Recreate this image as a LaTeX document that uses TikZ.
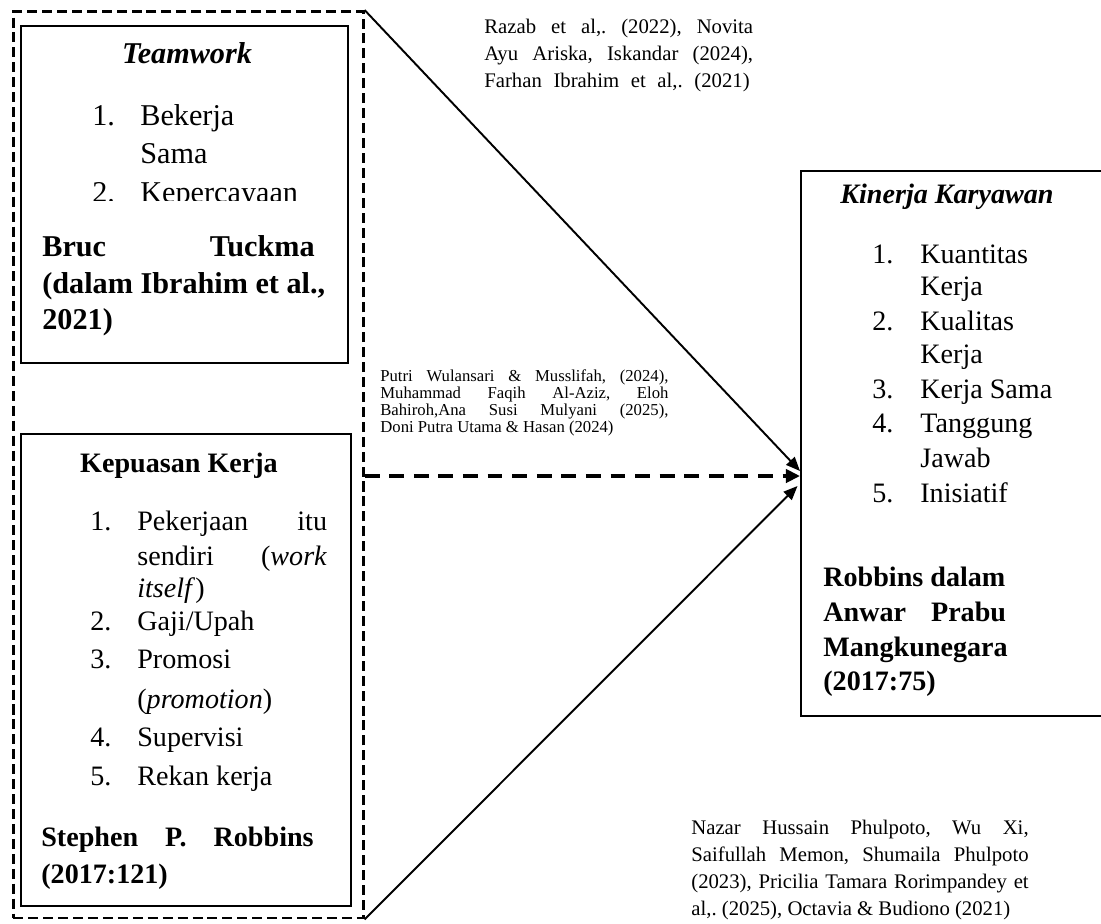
\documentclass[tikz,border=0pt]{standalone}
\usepackage{fontspec}
\setmainfont{Liberation Serif}
\usetikzlibrary{arrows.meta}
\frenchspacing

\begin{document}
\begin{tikzpicture}[
		x=0.02cm, y=-0.02cm,
		box/.style={draw, line width=1.1pt, inner sep=0pt, anchor=north west},
		group/.style={draw, line width=1.5pt, dash pattern=on 5.7pt off 2.8pt, inner sep=0pt, anchor=north west},
		link/.style={line width=1.1pt, -{Triangle[length=8pt,width=6.5pt]}},
		dlink/.style={line width=2pt, dash pattern=on 8.5pt off 5.5pt, -{Triangle[length=8pt,width=7.5pt]}},
		itemtext/.style={anchor=base west, inner sep=0pt, font=\fontsize{16}{19}\selectfont},
		bigtext/.style={anchor=base west, inner sep=0pt, font=\fontsize{17.2}{21}\selectfont},
		reftext/.style={anchor=base west, inner sep=0pt, font=\fontsize{11.8}{13}\selectfont},
		smalltext/.style={anchor=base west, inner sep=0pt, font=\fontsize{9.5}{10}\selectfont}
	]
	\useasboundingbox (0,0) rectangle (1101,923);

	% boxes
	\node[group, minimum width=7cm, minimum height=18.14cm] (grp) at (12,10) {};
	\node[box, minimum width=6.54cm, minimum height=6.74cm] (team) at (20,25) {};
	\node[box, minimum width=6.6cm, minimum height=9.44cm] (puas) at (20,433) {};
	\node[box, minimum width=6.4cm, minimum height=10.9cm] (kin) at (800,170) {};

	% connectors
	\coordinate (tipA) at (kin.west |- 0,471);
	\coordinate (tipB) at (kin.west |- 0,476);
	\coordinate (tipC) at ([xshift=-0.05cm]kin.west |- 0,486);
	\draw[link] (grp.north east) -- (tipA);
	\draw[dlink] (grp.east |- tipB) -- (tipB);
	\draw[link] (grp.south east) -- (tipC);

	% Teamwork
	\node[bigtext, anchor=base, font=\fontsize{17.2}{21}\selectfont\bfseries\itshape] (teamT) at (187,63) {Teamwork};
	\begin{scope}
		\clip (22,27) rectangle (345,200);
		\node[bigtext] (tn1) at (92,125) {1.};
		\node[bigtext] (ti1) at (140,125) {Bekerja};
		\node[bigtext] (ti1b) at (140,163) {Sama};
		\node[bigtext] (tn2) at (92,202) {2.};
		\node[bigtext] (ti2) at (140,202) {Kepercayaan};
	\end{scope}
	\node[bigtext, font=\fontsize{17.2}{21}\selectfont\bfseries] (ts1) at (42,256) {\makebox[155pt][s]{Bruc Tuckma}};
	\node[bigtext, font=\fontsize{17.2}{21}\selectfont\bfseries] (ts2) at (42,293) {(dalam Ibrahim et al.,};
	\node[bigtext, font=\fontsize{17.2}{21}\selectfont\bfseries] (ts3) at (42,329) {2021)};

	% Kepuasan Kerja
	\node[itemtext, anchor=base, font=\fontsize{16}{19}\selectfont\bfseries] (puasT) at (179,472) {Kepuasan Kerja};
	\foreach \yy/\nr [count=\i] in {530/1., 630/2., 668/3., 746/4., 785/5.}
		\node[itemtext] (pn\i) at (90,\yy) {\nr};
	\foreach \yy/\txt [count=\i] in {530/{\makebox[108pt][s]{Pekerjaan itu}},
			565/{\makebox[108pt][s]{sendiri (\textit{work}}},
			597/{\textit{itself})}, 630/{Gaji/Upah}, 668/{Promosi},
			708/{(\textit{promotion})}, 746/{Supervisi}, 785/{Rekan kerja}}
		\node[itemtext] (pi\i) at (137,\yy) {\txt};
	\node[itemtext, font=\fontsize{16}{19}\selectfont\bfseries] (ps1) at (41,846) {\makebox[155pt][s]{Stephen P. Robbins}};
	\node[itemtext, font=\fontsize{16}{19}\selectfont\bfseries] (ps2) at (41,883) {(2017:121)};

	% Kinerja Karyawan
	\node[itemtext, anchor=base, font=\fontsize{16}{19}\selectfont\bfseries\itshape] (kinT) at (947,203) {Kinerja Karyawan};
	\foreach \yy/\nr [count=\i] in {263/1., 330/2., 398/3., 432/4., 502/5.}
		\node[itemtext] (kn\i) at (872,\yy) {\nr};
	\foreach \yy/\txt [count=\i] in {263/Kuantitas, 295/Kerja, 330/Kualitas, 363/Kerja,
			398/Kerja Sama, 432/Tanggung, 467/Jawab, 502/Inisiatif}
		\node[itemtext] (ki\i) at (920,\yy) {\txt};
	\node[itemtext, font=\fontsize{16}{19}\selectfont\bfseries] (ks1) at (823,586) {Robbins dalam};
	\node[itemtext, font=\fontsize{16}{19}\selectfont\bfseries] (ks2) at (823,621) {\makebox[104pt][s]{Anwar Prabu}};
	\node[itemtext, font=\fontsize{16}{19}\selectfont\bfseries] (ks3) at (823,656) {Mangkunegara};
	\node[itemtext, font=\fontsize{16}{19}\selectfont\bfseries] (ks4) at (823,690) {(2017:75)};

	% references
	\node[reftext] (raz1) at (484,33) {\makebox[153pt][s]{Razab et al,. (2022), Novita}};
	\node[reftext] (raz2) at (484,60) {\makebox[153pt][s]{Ayu Ariska, Iskandar (2024),}};
	\node[reftext] (raz3) at (484,87) {\makebox[151pt][s]{Farhan Ibrahim et al,. (2021)}};

	\node[smalltext] (put1) at (380,381) {\makebox[164pt][s]{Putri Wulansari \& Musslifah, (2024),}};
	\node[smalltext] (put2) at (380,398) {\makebox[164pt][s]{Muhammad Faqih Al-Aziz, Eloh}};
	\node[smalltext] (put3) at (380,415) {\makebox[164pt][s]{Bahiroh,Ana Susi Mulyani (2025),}};
	\node[smalltext] (put4) at (380,432) {Doni Putra Utama \& Hasan (2024)};

	\node[reftext] (naz1) at (691,834) {\makebox[192pt][s]{Nazar Hussain Phulpoto, Wu Xi,}};
	\node[reftext] (naz2) at (691,861) {\makebox[192pt][s]{Saifullah Memon, Shumaila Phulpoto}};
	\node[reftext] (naz3) at (691,888) {\makebox[192pt][s]{(2023), Pricilia Tamara Rorimpandey et}};
	\node[reftext] (naz4) at (691,915) {al,. (2025), Octavia \& Budiono (2021)};
\end{tikzpicture}
\end{document}
